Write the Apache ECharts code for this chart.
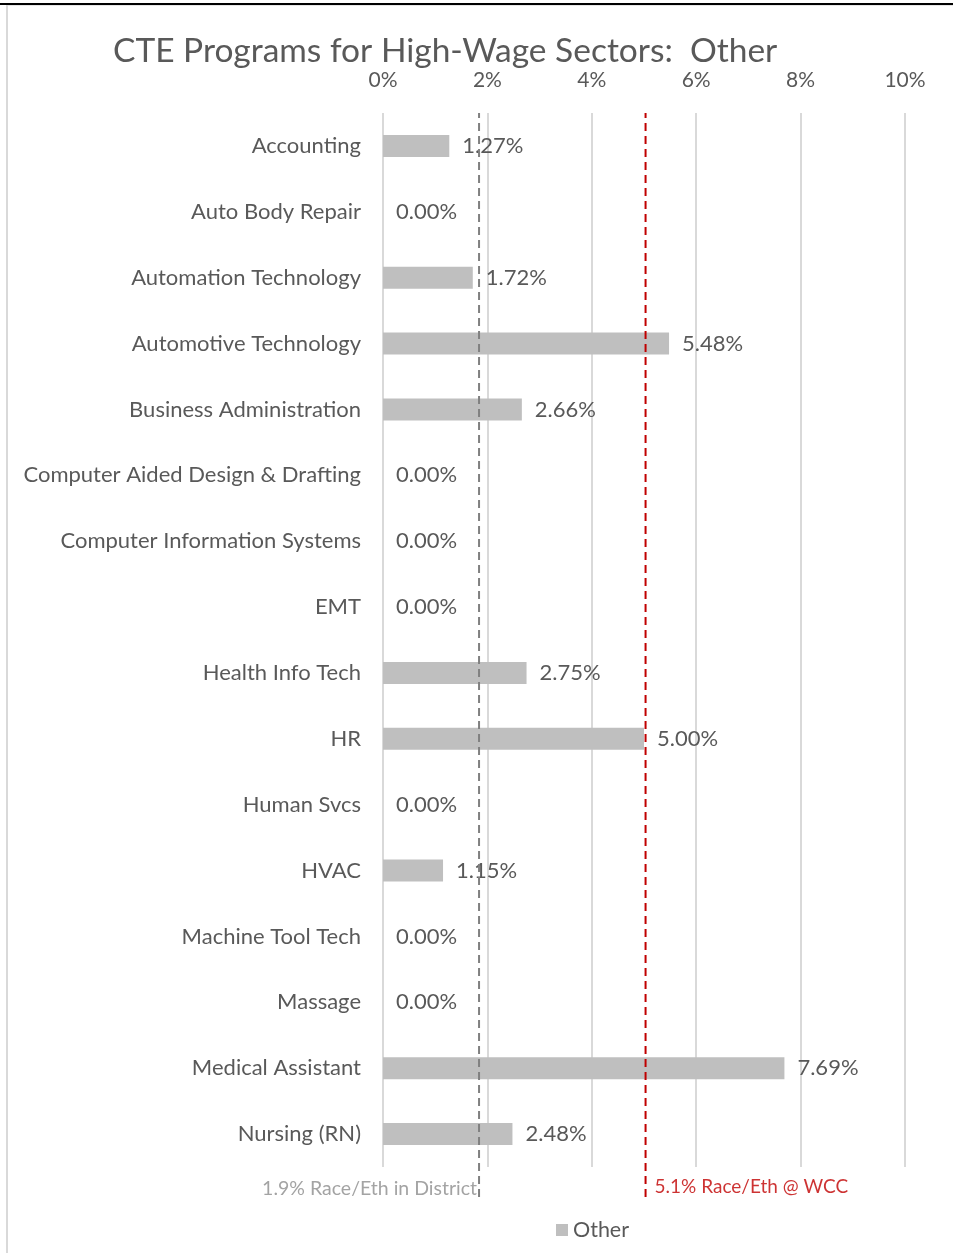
<!DOCTYPE html>
<html>
<head>
<meta charset="utf-8">
<script src="https://cdn.jsdelivr.net/npm/echarts@6/dist/echarts.min.js"></script>
<style>
  html, body { margin: 0; padding: 0; background: #fff; }
  #wrap { position: relative; width: 953px; height: 1253px; overflow: hidden; }
  #chart { position: absolute; left: 0; top: 0; width: 953px; height: 1253px; }
  #topline { position: absolute; left: 0; top: 3px; width: 953px; height: 2px; background: #000; }
  #leftline { position: absolute; left: 6px; top: 5px; width: 2px; height: 1248px; background: #d9d9d9; }
  #topgray { position: absolute; left: 8px; top: 5px; width: 945px; height: 1px; background: #e6e6e6; }
</style>
</head>
<body>
<div id="wrap">
  <div id="chart"></div>
  <div id="topline"></div>
  <div id="topgray"></div>
  <div id="leftline"></div>
</div>
<script>
const titleText = 'CTE Programs for High-Wage Sectors:  Other';
const categories = [
  'Accounting', 'Auto Body Repair', 'Automation Technology', 'Automotive Technology',
  'Business Administration', 'Computer Aided Design & Drafting', 'Computer Information Systems',
  'EMT', 'Health Info Tech', 'HR', 'Human Svcs', 'HVAC', 'Machine Tool Tech', 'Massage',
  'Medical Assistant', 'Nursing (RN)'
];
const otherValues = [1.27, 0.00, 1.72, 5.48, 2.66, 0.00, 0.00, 0.00, 2.75, 5.00, 0.00, 1.15, 0.00, 0.00, 7.69, 2.48];
const seriesName = 'Other';
const xTicks = [0, 2, 4, 6, 8, 10];
const districtRate = 1.84;
const districtLabel = '1.9% Race/Eth in District';
const wccRate = 5.03;
const wccLabel = '5.1% Race/Eth @ WCC';

const FONT = 'Lato';
const chart = echarts.init(document.getElementById('chart'));
chart.setOption({
  animation: false,
  backgroundColor: 'transparent',
  textStyle: { fontFamily: FONT },
  title: {
    text: titleText,
    left: 108, top: 29,
    textStyle: { fontFamily: FONT, fontSize: 33.5, fontWeight: 'normal', color: '#595959' }
  },
  legend: {
    data: [seriesName],
    left: 551, top: 1214,
    itemWidth: 12, itemHeight: 12, itemGap: 3,
    icon: 'rect',
    textStyle: { fontFamily: FONT, fontSize: 21.5, color: '#595959' }
  },
  grid: [
    { left: 383, right: 48, top: 113, bottom: 86, containLabel: false },
    { left: 383, right: 48, top: 113, bottom: 56, containLabel: false }
  ],
  xAxis: [
    {
      type: 'value', gridIndex: 0, position: 'top',
      min: xTicks[0], max: xTicks[xTicks.length - 1], interval: xTicks[1] - xTicks[0],
      axisLine: { show: false }, axisTick: { show: false },
      axisLabel: { formatter: '{value}%', fontSize: 21, color: '#595959', margin: 22, fontFamily: FONT },
      splitLine: { show: true, lineStyle: { color: '#d9d9d9', width: 2 } }
    },
    { type: 'value', gridIndex: 1, min: 0, max: 10, show: false }
  ],
  yAxis: [
    {
      type: 'category', gridIndex: 0, data: categories, inverse: true,
      axisLine: { show: false }, axisTick: { show: false },
      axisLabel: { fontSize: 22, color: '#595959', margin: 22, fontFamily: FONT },
      splitLine: { show: false }
    },
    { type: 'value', gridIndex: 1, min: 0, max: 1, show: false }
  ],
  series: [
    {
      name: seriesName, type: 'bar', xAxisIndex: 0, yAxisIndex: 0,
      data: otherValues, barWidth: 22,
      itemStyle: { color: '#bfbfbf' },
      label: {
        show: true, position: 'right', distance: 13,
        formatter: p => p.value.toFixed(2) + '%',
        fontSize: 22, color: '#595959', fontFamily: FONT
      },
      z: 2
    },
    {
      name: 'district', type: 'line', xAxisIndex: 1, yAxisIndex: 1,
      data: [[districtRate, 0], [districtRate, 1]], symbol: 'none',
      lineStyle: { color: '#808080', width: 2, type: [8, 5] }, z: 5, silent: true
    },
    {
      name: 'wcc', type: 'line', xAxisIndex: 1, yAxisIndex: 1,
      data: [[wccRate, 0], [wccRate, 1]], symbol: 'none',
      lineStyle: { color: '#c00000', width: 2, type: [8, 5] }, z: 5, silent: true
    },
    {
      name: 'districtLabel', type: 'scatter', xAxisIndex: 1, yAxisIndex: 1,
      data: [[districtRate, 0]], symbolSize: 0, silent: true,
      label: { show: true, position: 'left', distance: 2, offset: [0, -8], formatter: districtLabel,
        fontSize: 19.5, color: '#8c8c8c', fontFamily: FONT }
    },
    {
      name: 'wccLabel', type: 'scatter', xAxisIndex: 1, yAxisIndex: 1,
      data: [[wccRate, 0]], symbolSize: 0, silent: true,
      label: { show: true, position: 'right', distance: 9, offset: [0, -10], formatter: wccLabel,
        fontSize: 19, color: '#c00000', fontFamily: FONT }
    }
  ]
});
</script>
</body>
</html>
